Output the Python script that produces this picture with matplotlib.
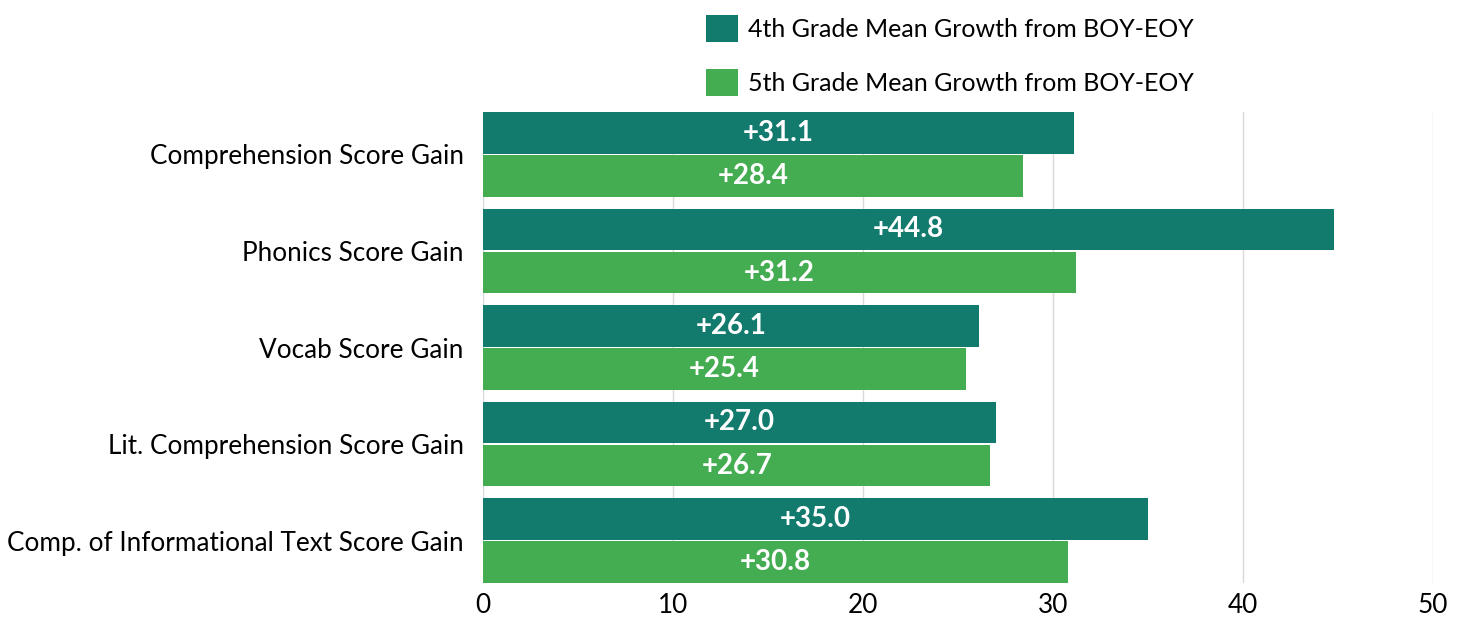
import numpy as np
import matplotlib
matplotlib.use("Agg")
import matplotlib.pyplot as plt
from matplotlib.patches import Patch

categories = [
    "Comprehension Score Gain",
    "Phonics Score Gain",
    "Vocab Score Gain",
    "Lit. Comprehension Score Gain",
    "Comp. of Informational Text Score Gain",
]
grade4 = [31.1, 44.8, 26.1, 27.0, 35.0]
grade5 = [28.4, 31.2, 25.4, 26.7, 30.8]
series_names = ["4th Grade Mean Growth from BOY-EOY", "5th Grade Mean Growth from BOY-EOY"]
xticks = [0, 10, 20, 30, 40, 50]

c4 = "#127b6e"
c5 = "#44ad52"
FONT = "Lato"
FS = 18.8

plt.rcParams["font.family"] = [FONT, "DejaVu Sans"]


def main():
    fig = plt.figure(figsize=(14.62, 6.21), dpi=100)
    ax = fig.add_axes([0.3304, 0.0612, 0.6498, 0.7584])

    y = np.arange(len(categories))
    h = 0.43
    off = 0.225
    b4 = ax.barh(y - off, grade4, height=h, color=c4, zorder=3)
    b5 = ax.barh(y + off, grade5, height=h, color=c5, zorder=3)

    for bars, vals in ((b4, grade4), (b5, grade5)):
        for bar, v in zip(bars, vals):
            ax.text(v / 2, bar.get_y() + bar.get_height() / 2, f"+{v:.1f}",
                    ha="center", va="center", color="white",
                    fontsize=20, fontweight="bold", zorder=4)

    ax.set_ylim(len(categories) - 1 + 0.44, -0.44)
    ax.set_xlim(0, 50)
    ax.set_xticks(xticks)
    ax.set_xticklabels([str(t) for t in xticks], fontsize=FS)
    ax.set_yticks(y)
    ax.set_yticklabels(categories, fontsize=FS)
    ax.tick_params(length=0)
    ax.tick_params(axis="y", pad=14)
    ax.tick_params(axis="x", pad=7)
    ax.xaxis.grid(True, color="#d9d9d9", linewidth=1, zorder=0)
    for s in ax.spines.values():
        s.set_visible(False)

    handles = [Patch(facecolor=c4), Patch(facecolor=c5)]
    fig.legend(handles, series_names, loc="upper left",
               bbox_to_anchor=(0.4675, 1.012), frameon=False,
               fontsize=18, handlelength=1.3, handleheight=1.3,
               handletextpad=0.4, labelspacing=1.05)

    fig.savefig("out.png", dpi=100)


if __name__ == "__main__":
    main()
